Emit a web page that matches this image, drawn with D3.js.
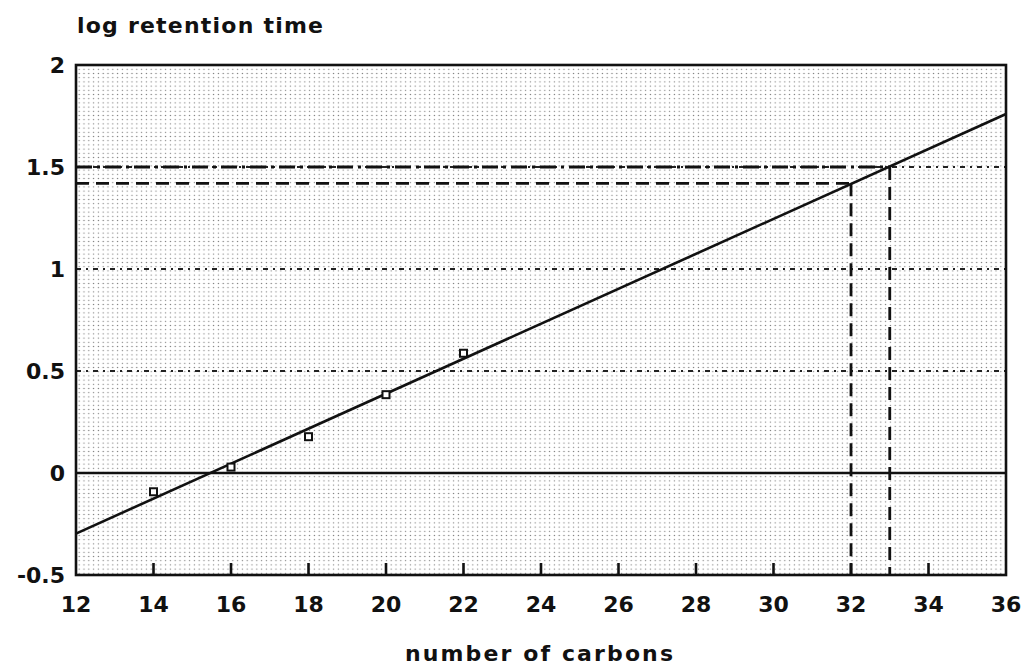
<!DOCTYPE html>
<html><head><meta charset="utf-8">
<script src="https://cdn.jsdelivr.net/npm/d3@7"></script>
<style>
html,body{margin:0;padding:0;background:#fff;}
text{font-family:"DejaVu Sans",sans-serif;fill:#111;font-weight:bold;}
</style></head>
<body><svg id="c" width="1028" height="669"></svg>
<script>
// ---- data ----
const carbons = [14, 16, 18, 20, 22];
const logRT = [-0.092, 0.029, 0.178, 0.384, 0.587];
const fitX = [12, 36];
const fitY = [-0.297, 1.76];
const readX = [32, 33];           // read-off carbon numbers
const readY = [1.42, 1.5];        // corresponding log retention times
const xTicks = [12, 14, 16, 18, 20, 22, 24, 26, 28, 30, 32, 34, 36];
const yTicks = [-0.5, 0, 0.5, 1, 1.5, 2];
const yGrid = [0.5, 1, 1.5];

const svg = d3.select("#c");
const x = d3.scaleLinear().domain([12, 36]).range([76, 1006]);
const y = d3.scaleLinear().domain([-0.5, 2]).range([575, 65]);

// dot texture background
const defs = svg.append("defs");
const pat = defs.append("pattern").attr("id","dots").attr("patternUnits","userSpaceOnUse")
  .attr("width",4.8).attr("height",4.2);
pat.append("circle").attr("cx",2.4).attr("cy",2.1).attr("r",0.7).attr("fill","#7a7a7a");
svg.append("rect").attr("x",x(12)).attr("y",y(2)).attr("width",x(36)-x(12)).attr("height",y(-0.5)-y(2))
  .attr("fill","url(#dots)");

// gridlines (dash-dot)
svg.selectAll(".g").data(yGrid).enter().append("line")
  .attr("x1",x(12)).attr("x2",x(36)).attr("y1",d=>y(d)).attr("y2",d=>y(d))
  .attr("stroke","#222").attr("stroke-width",1.8).attr("stroke-dasharray","5,5,2,5");

// zero line
svg.append("line").attr("x1",x(12)).attr("x2",x(36)).attr("y1",y(0)).attr("y2",y(0))
  .attr("stroke","#111").attr("stroke-width",2.6);

// read-off dashed lines
readX.forEach((cx,i)=>{
  const dash = i===0 ? "13,7" : "16,5,3,5";
  svg.append("line").attr("x1",x(12)).attr("x2",x(cx)).attr("y1",y(readY[i])).attr("y2",y(readY[i]))
    .attr("stroke","#111").attr("stroke-width",2.8).attr("stroke-dasharray",dash);
  svg.append("line").attr("x1",x(cx)).attr("x2",x(cx)).attr("y1",y(readY[i])).attr("y2",y(-0.5))
    .attr("stroke","#111").attr("stroke-width",2.8).attr("stroke-dasharray","13,7");
});

// regression line
svg.append("line").attr("x1",x(fitX[0])).attr("y1",y(fitY[0])).attr("x2",x(fitX[1])).attr("y2",y(fitY[1]))
  .attr("stroke","#111").attr("stroke-width",2.6);

// data points
svg.selectAll(".p").data(carbons).enter().append("rect")
  .attr("x",(d)=>x(d)-3.5).attr("y",(d,i)=>y(logRT[i])-3.5).attr("width",7).attr("height",7)
  .attr("fill","#fff").attr("stroke","#111").attr("stroke-width",2);

// frame
svg.append("rect").attr("x",x(12)).attr("y",y(2)).attr("width",x(36)-x(12)).attr("height",y(-0.5)-y(2))
  .attr("fill","none").attr("stroke","#111").attr("stroke-width",2.6);

// bottom ticks
svg.selectAll(".t").data(xTicks.slice(1,-1)).enter().append("line")
  .attr("x1",d=>x(d)).attr("x2",d=>x(d)).attr("y1",y(-0.5)).attr("y2",y(-0.5)-12)
  .attr("stroke","#111").attr("stroke-width",2.6);

// tick labels
svg.selectAll(".xl").data(xTicks).enter().append("text")
  .attr("x",d=>x(d)).attr("y",612).attr("text-anchor","middle")
  .style("font-size","22px").text(d=>d);
svg.selectAll(".yl").data(yTicks).enter().append("text")
  .attr("x",65).attr("y",d=>y(d)+8).attr("text-anchor","end")
  .style("font-size","22px").text(d=>d);

// axis titles
svg.append("text").attr("x",77).attr("y",33).style("font-size","22px")
  .attr("textLength",246).attr("lengthAdjust","spacing").text("log retention time");
svg.append("text").attr("x",405).attr("y",661).style("font-size","22px")
  .attr("textLength",268).attr("lengthAdjust","spacing").text("number of carbons");
</script></body></html>
